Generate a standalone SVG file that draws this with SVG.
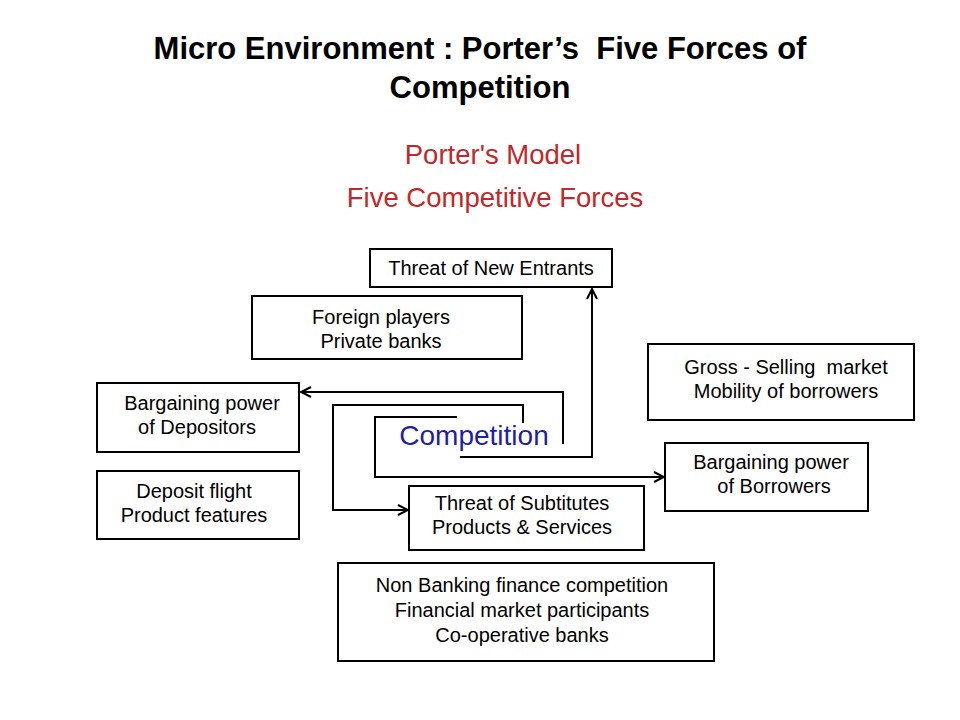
<svg xmlns="http://www.w3.org/2000/svg" width="960" height="720" viewBox="0 0 960 720">
<defs>
<style>
.b{fill:#fff;stroke:#000;stroke-width:2}
.t{font-family:"Liberation Sans",Arial,sans-serif;font-size:20px;fill:#000;text-anchor:middle}
.c{fill:none;stroke:#000;stroke-width:2}
</style>
<marker id="a" viewBox="0 0 12 12" refX="11" refY="6" markerWidth="12" markerHeight="12" markerUnits="userSpaceOnUse" orient="auto"><path d="M1,1 L11,6 L1,11" fill="none" stroke="#000" stroke-width="2"/></marker>
</defs>
<rect width="960" height="720" fill="#fff"/>
<g id="title" font-family="Liberation Sans,Arial,sans-serif" font-weight="bold" font-size="31" text-anchor="middle">
<text x="480" y="59" xml:space="preserve">Micro Environment : Porter’s  Five Forces of</text>
<text x="480" y="98">Competition</text>
</g>
<g id="subtitle" font-family="Liberation Sans,Arial,sans-serif" font-size="27.5" fill="#c0282a" text-anchor="middle">
<text x="493" y="164">Porter's Model</text>
<text x="495" y="207">Five Competitive Forces</text>
</g>
<g id="connectors">
<polyline class="c" points="563,444 563,392 301,392" marker-end="url(#a)"/>
<polyline class="c" points="523,423 523,405 333,405 333,510 408,510" marker-end="url(#a)"/>
<polyline class="c" points="457,417 375,417 375,477 664,477" marker-end="url(#a)"/>
<polyline class="c" points="460,457 592,457 592,289" marker-end="url(#a)"/>
</g>
<g id="competition"><text x="474" y="445" font-family="Liberation Sans,Arial,sans-serif" font-size="28" fill="#1f1fa0" text-anchor="middle">Competition</text></g>
<g id="newEntrants"><rect class="b" x="370" y="249" width="242" height="38"/><text class="t" x="491" y="275">Threat of New Entrants</text></g>
<g id="foreign"><rect class="b" x="252" y="296" width="270" height="63"/><text class="t" x="381" y="324">Foreign players</text><text class="t" x="381" y="348">Private banks</text></g>
<g id="depositors"><rect class="b" x="97" y="383" width="202" height="69"/><text class="t" x="202" y="410">Bargaining power</text><text class="t" x="197" y="434">of Depositors</text></g>
<g id="depositFlight"><rect class="b" x="97" y="471" width="202" height="68"/><text class="t" x="194" y="498">Deposit flight</text><text class="t" x="194" y="522">Product features</text></g>
<g id="gross"><rect class="b" x="648" y="344" width="266" height="76"/><text class="t" x="786" y="374" xml:space="preserve">Gross - Selling  market</text><text class="t" x="786" y="398">Mobility of borrowers</text></g>
<g id="borrowers"><rect class="b" x="665" y="443" width="203" height="68"/><text class="t" x="771" y="469">Bargaining power</text><text class="t" x="774" y="493">of Borrowers</text></g>
<g id="substitutes"><rect class="b" x="409" y="486" width="235" height="64"/><text class="t" x="522" y="510">Threat of Subtitutes</text><text class="t" x="522" y="534">Products &amp; Services</text></g>
<g id="nonBanking"><rect class="b" x="338" y="563" width="376" height="98"/><text class="t" x="522" y="592">Non Banking finance competition</text><text class="t" x="522" y="617">Financial market participants</text><text class="t" x="522" y="642">Co-operative banks</text></g>
</svg>
